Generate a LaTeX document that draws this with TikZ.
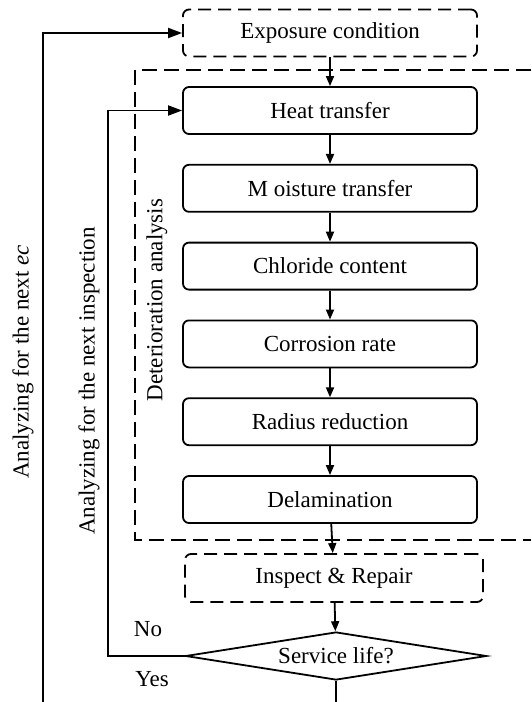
\documentclass[tikz,border=0pt]{standalone}
\usepackage{fontspec}
\setmainfont{Liberation Serif}
\usetikzlibrary{shapes.geometric, arrows.meta, positioning, calc}

\begin{document}
\begin{tikzpicture}[x=0.5pt, y=-0.5pt, font=\fontsize{11.5}{13}\selectfont,
    procbox/.style={draw, line width=0.9pt, rounded corners=3pt, minimum width=147pt, minimum height=23.5pt, inner sep=0pt},
    stagebox/.style={procbox, dash pattern=on 6.5pt off 3.5pt},
    decision/.style={draw, line width=0.9pt, diamond, aspect=6.3, inner sep=0pt, minimum width=150.5pt, minimum height=24pt},
    flow/.style={line width=0.9pt, -{Triangle[length=5pt, width=4pt]}},
    loopback/.style={line width=0.9pt, -{Triangle[length=7pt, width=5pt]}},
    sidelabel/.style={rotate=90, inner sep=0pt}]
    \useasboundingbox (0,0) rectangle (531,702);

    % Analysis group
    \draw[line width=0.9pt, dash pattern=on 7.5pt off 3.5pt] (531,70) -| (135,540) -- (531,540);
    \node[sidelabel] (grp) at (157,300) {Deterioration analysis};

    % Stages
    \node[stagebox] (expo) at (330,33) {Exposure condition};
    \node[procbox] (heat) at (330,110.5) {Heat transfer};
    \node[procbox] (moist) at (330,188.3) {M oisture transfer};
    \node[procbox] (chlor) at (330,266.1) {Chloride content};
    \node[procbox] (corr) at (330,343.9) {Corrosion rate};
    \node[procbox] (rad) at (330,421.7) {Radius reduction};
    \node[procbox] (delam) at (330,499.5) {Delamination};
    \node[stagebox, minimum width=149pt, minimum height=24pt] (insp) at (334,578) {Inspect \& Repair};
    \node[decision] (svc) at (336,656) {Service life?};

    % Main flow
    \draw[flow] (expo) -- (heat);
    \draw[flow] (heat) -- (moist);
    \draw[flow] (moist) -- (chlor);
    \draw[flow] (chlor) -- (corr);
    \draw[flow] (corr) -- (rad);
    \draw[flow] (rad) -- (delam);
    \draw[flow] (delam) -- (insp);
    \draw[flow] (insp) -- (svc);

    % Decision outputs
    \coordinate (nocorner) at (108,656);
    \coordinate (yesend) at (336,702);
    \coordinate (ecbot) at (43,702);
    \draw[loopback] (svc.west) -- (nocorner) |- (heat.west);
    \draw[line width=0.9pt] (svc.south) -- (yesend);
    \draw[loopback] (ecbot) |- (expo.west);
    \node (no) at (148,629) {No};
    \node (yes) at (152,679) {Yes};

    % Loop labels
    \node[sidelabel] (nextinsp) at (89,381) {Analyzing for the next inspection};
    \node[sidelabel] (nextec) at (23,362) {Analyzing for the next \textit{ec}};
\end{tikzpicture}
\end{document}
